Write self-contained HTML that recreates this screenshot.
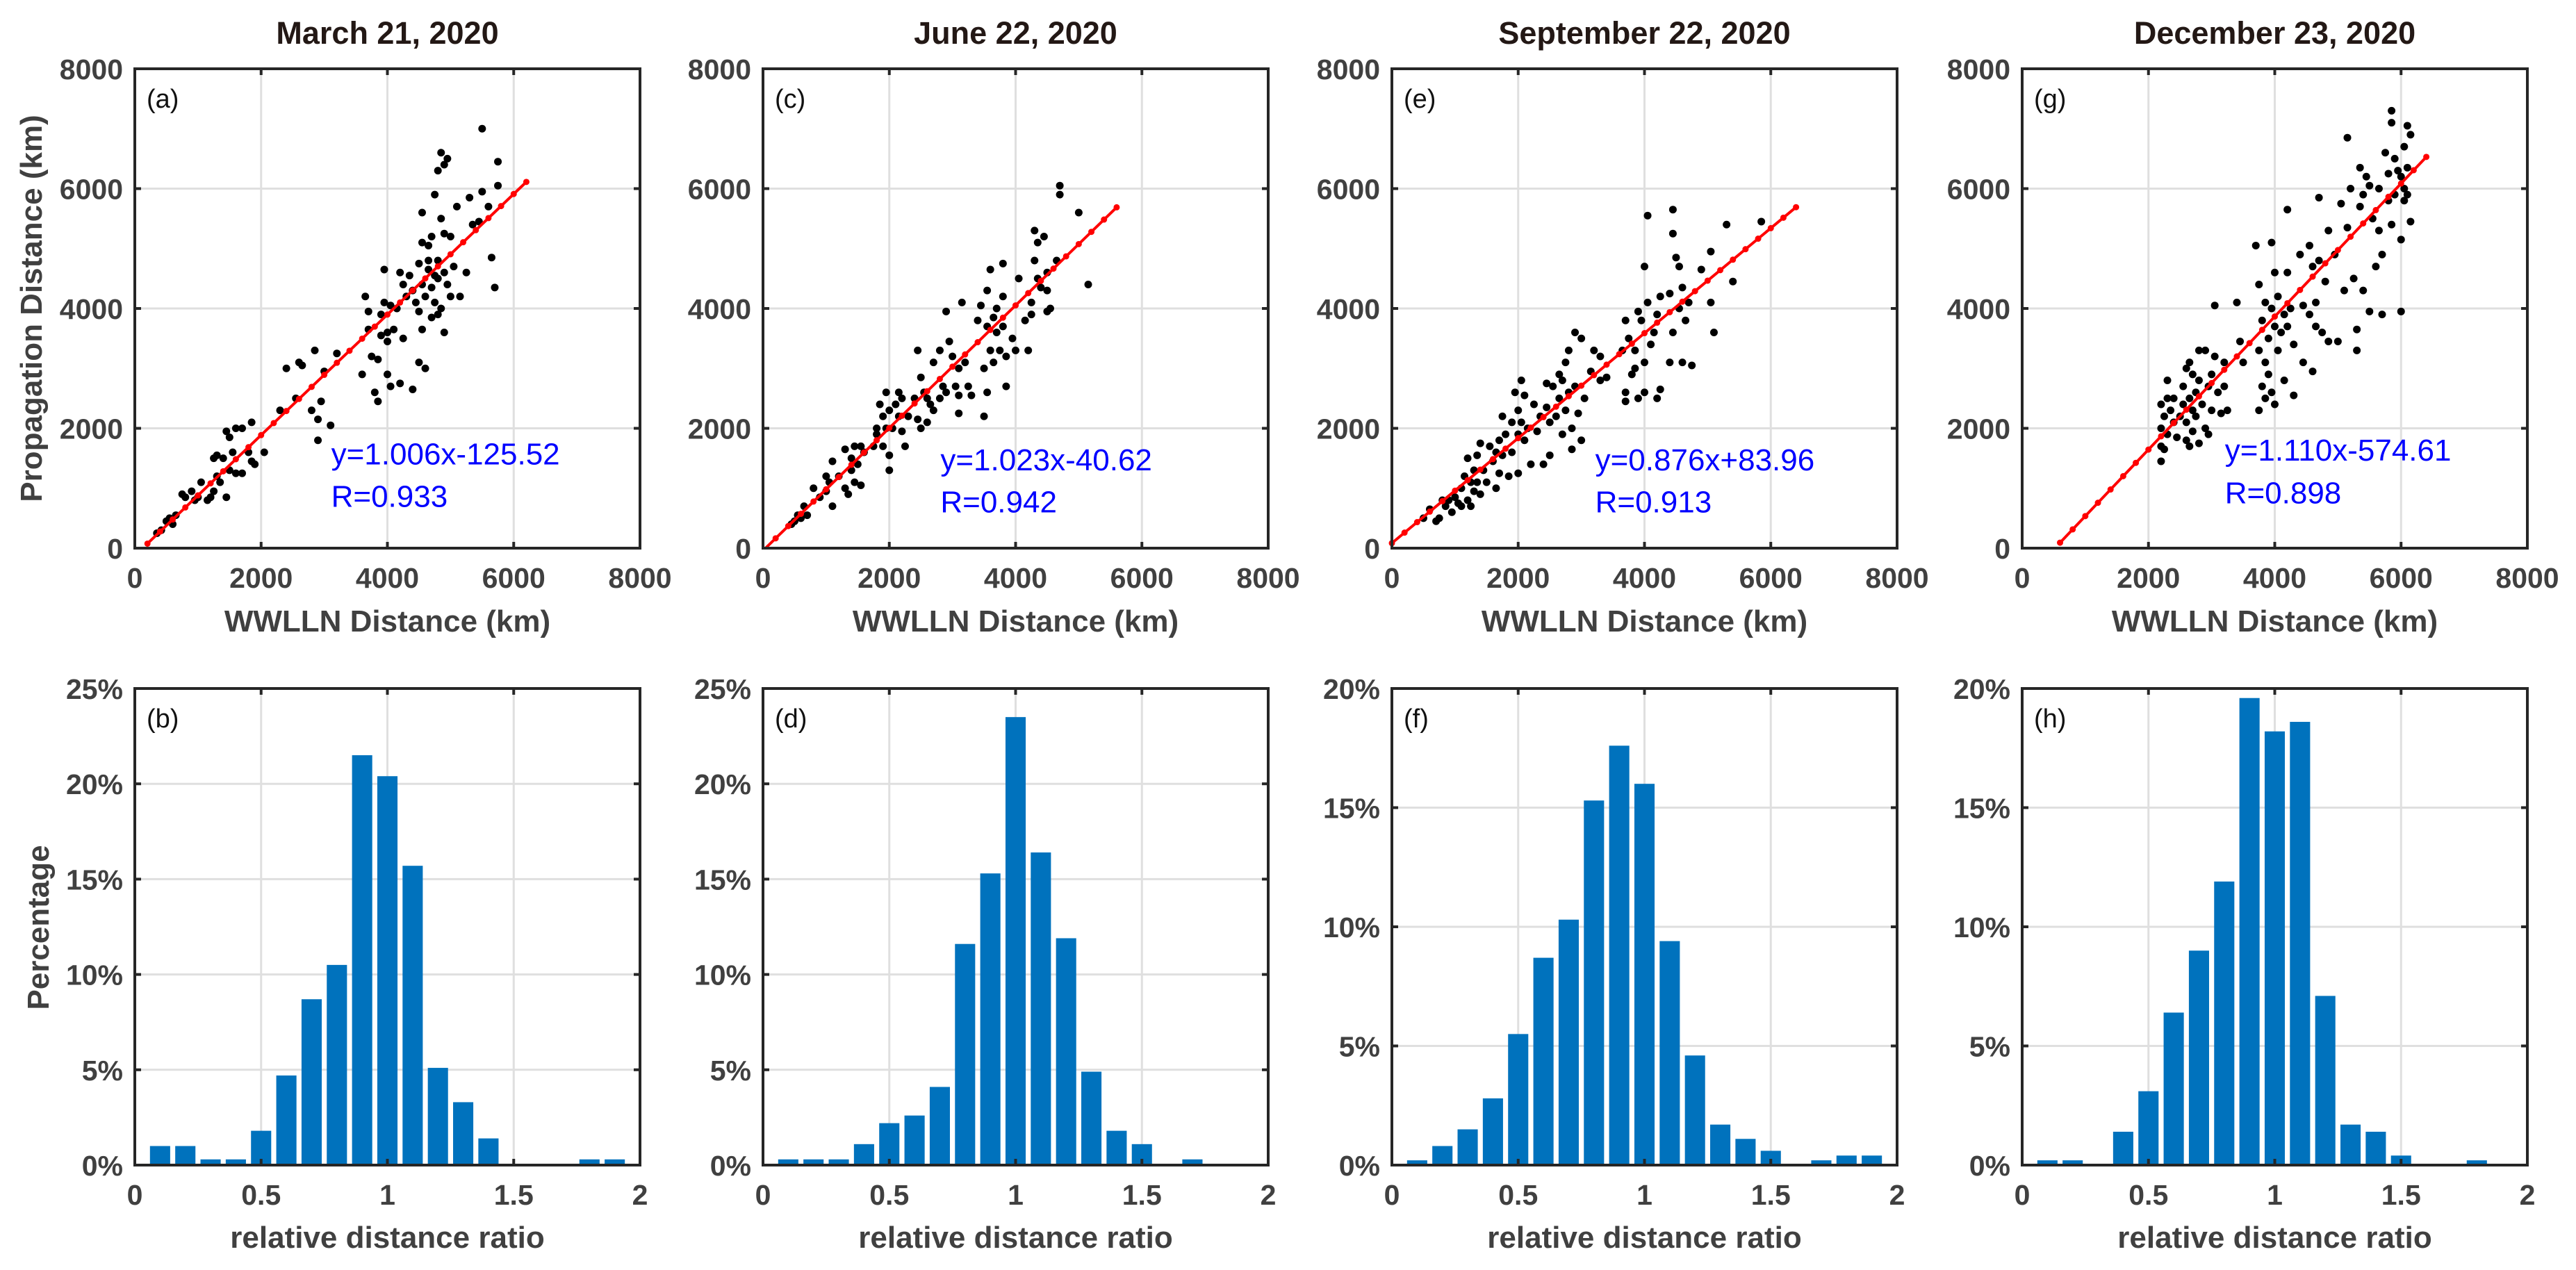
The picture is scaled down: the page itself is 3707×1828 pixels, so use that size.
<!DOCTYPE html>
<html><head><meta charset="utf-8"><style>
html,body{margin:0;padding:0;background:#fff;}
svg{display:block;font-family:"Liberation Sans",Arial,sans-serif;}
</style></head><body>
<svg id="fig" width="3707" height="1828" viewBox="0 0 3707 1828" xmlns="http://www.w3.org/2000/svg"></svg>
<script>
// ---------- data ----------
const titles = ["March 21, 2020","June 22, 2020","September 22, 2020","December 23, 2020"];
const scatterLabels = ["(a)","(c)","(e)","(g)"];
const histLabels = ["(b)","(d)","(f)","(h)"];
const fitSlope = [1.006, 1.023, 0.876, 1.110];
const fitIntercept = [-125.52, -40.62, 83.96, -574.61];
const fitXStart = [200, 0, 0, 600];
const fitXEnd = [6200, 5600, 6400, 6400];
const eqText = ["y=1.006x-125.52","y=1.023x-40.62","y=0.876x+83.96","y=1.110x-574.61"];
const rText = ["R=0.933","R=0.942","R=0.913","R=0.898"];
const eqX = [3110, 2810, 3220, 3210];
const eqY = [1400, 1300, 1300, 1460];
const rY = [690, 600, 600, 750];
const scatterTicks = [0,2000,4000,6000,8000];

const ptsA = [[350,250],[420,300],[500,450],[550,500],[600,400],[650,550],[750,900],[800,850],[900,950],[950,800],[1000,850],[1050,1100],[1150,800],[1200,850],[1250,950],[1250,1500],[1300,1200],[1300,1550],[1350,1100],[1400,1500],[1450,1950],[1450,850],[1500,1850],[1500,1300],[1550,1600],[1600,2000],[1600,1250],[1700,2000],[1700,1250],[1800,1600],[1850,2100],[1850,1450],[1900,1400],[2050,1600],[2300,2300],[2400,3000],[2550,2500],[2600,3100],[2650,3050],[2800,2300],[2850,3300],[2900,2150],[2900,1800],[2950,2450],[3000,2950],[3100,2050],[3200,3250],[3600,2900],[3650,4200],[3700,3650],[3700,3950],[3750,3200],[3800,2600],[3850,3150],[3850,2450],[3900,3550],[3900,3900],[3950,4650],[4000,3600],[4000,2900],[4000,3450],[4050,4050],[4050,2700],[4100,3650],[4150,4000],[4200,4600],[4200,2750],[4250,3500],[4250,4400],[4300,4200],[4350,4550],[4400,2650],[4400,4300],[4500,3100],[4500,4750],[4500,3950],[4550,5600],[4550,5100],[4550,3650],[4600,3000],[4600,4200],[4650,4650],[4650,5050],[4700,3850],[4700,4350],[4700,5200],[4750,5900],[4750,4100],[4800,6300],[4800,4800],[4800,4500],[4850,6600],[4850,5500],[4850,4000],[4900,6400],[4900,5250],[4900,4600],[4900,3600],[4950,6500],[4950,4400],[5000,5200],[5000,4200],[5050,4700],[5100,5700],[5150,4200],[5250,4600],[5300,5850],[5350,5400],[5450,5450],[5500,5950],[5500,7000],[5600,5700],[5650,4850],[5700,4350],[5750,6450],[5750,6050],[4750,4550],[4800,3900],[4650,4800],[4550,4400],[4450,4100],[3950,4100]];
const ptsC = [[450,400],[500,450],[550,550],[600,500],[650,700],[700,550],[800,1000],[900,850],[1000,1200],[1000,950],[1050,1100],[1100,1450],[1100,700],[1200,1200],[1300,1650],[1300,1000],[1350,900],[1400,1500],[1400,1300],[1450,1700],[1450,1100],[1500,1400],[1550,1050],[1550,1700],[1600,1600],[1750,1700],[1800,1900],[1800,2000],[1850,2400],[1900,2200],[1900,1700],[1950,2600],[1950,2000],[2000,1300],[2000,1550],[2000,2300],[2050,2000],[2100,2400],[2150,2600],[2150,2200],[2200,2500],[2200,1950],[2250,1700],[2300,2200],[2400,2500],[2450,2150],[2450,3300],[2500,2850],[2500,2000],[2550,2600],[2600,2500],[2600,2100],[2650,2400],[2700,3100],[2700,2300],[2800,2500],[2800,3300],[2850,2700],[2900,2600],[2900,3950],[2950,3450],[3000,3200],[3050,2700],[3100,2250],[3100,2550],[3100,3000],[3150,4100],[3200,3100],[3250,2700],[3300,2550],[3400,3800],[3450,4050],[3500,3000],[3500,2200],[3550,3700],[3550,4300],[3550,2600],[3600,4650],[3600,3300],[3650,3850],[3650,3100],[3700,3600],[3700,4000],[3750,3300],[3800,3700],[3800,4200],[3800,4750],[3850,2700],[3850,3200],[3950,3500],[4000,3300],[4050,4500],[4150,3800],[4200,3300],[4250,4100],[4250,3900],[4300,4800],[4300,5300],[4350,4500],[4350,5100],[4400,4350],[4450,5200],[4500,4300],[4500,3950],[4500,4600],[4550,4000],[4650,4800],[4700,6050],[4700,5900],[5000,5600],[5150,4400]];
const ptsE = [[500,500],[600,650],[700,450],[750,500],[800,800],[850,700],[900,800],[950,600],[1000,850],[1050,750],[1100,700],[1100,1000],[1150,1200],[1200,800],[1200,1500],[1250,1100],[1250,700],[1300,1300],[1300,950],[1350,1550],[1350,1100],[1400,900],[1400,1750],[1450,1300],[1500,1100],[1550,1700],[1600,1450],[1650,1600],[1650,1000],[1700,1800],[1700,1250],[1750,2200],[1750,1550],[1800,1900],[1850,1200],[1900,2100],[1900,1600],[1950,2600],[2000,2300],[2000,1900],[2000,1250],[2050,2800],[2050,2100],[2100,2550],[2100,1800],[2150,2000],[2200,1400],[2250,2400],[2300,1950],[2350,2200],[2400,1400],[2450,2750],[2450,2350],[2500,2100],[2500,1550],[2550,2700],[2600,2200],[2650,2900],[2650,2500],[2700,2800],[2700,1900],[2750,3100],[2750,2300],[2800,3300],[2800,2600],[2850,2000],[2850,1650],[2900,3600],[2900,2700],[2950,2250],[3000,3500],[3000,1800],[3050,2500],[3150,2950],[3200,3300],[3300,3200],[3300,2800],[3400,2850],[3650,3300],[3700,3800],[3700,2600],[3700,2450],[3750,3500],[3800,2900],[3850,3300],[3850,3000],[3900,3950],[3900,2500],[3950,3800],[4000,4700],[4000,3100],[4000,2600],[4050,5550],[4050,4100],[4100,3400],[4150,3600],[4200,3900],[4200,2500],[4250,4200],[4250,2650],[4400,4250],[4400,3100],[4450,5650],[4450,5250],[4450,3600],[4500,4850],[4550,4700],[4550,4000],[4600,4350],[4600,3100],[4650,3800],[4700,4100],[4750,3050],[4900,4650],[5050,4950],[5050,4100],[5100,3600],[5300,5400],[5400,4450],[5850,5450]];
const ptsG = [[2200,1450],[2200,1700],[2200,2000],[2200,2400],[2250,1650],[2250,2200],[2300,1900],[2300,2500],[2300,2800],[2350,2300],[2400,2100],[2400,2500],[2450,1850],[2500,2200],[2550,2700],[2550,2400],[2600,1800],[2600,3000],[2600,2100],[2650,2500],[2650,1700],[2650,3100],[2700,2300],[2700,2900],[2700,1950],[2750,2200],[2750,2600],[2800,3300],[2800,1750],[2800,2800],[2850,2400],[2900,2000],[2900,3300],[2950,1900],[2950,2700],[3000,2900],[3000,2300],[3050,4050],[3050,3200],[3100,2600],[3150,2250],[3200,3100],[3200,2700],[3250,2300],[3400,4100],[3450,3450],[3500,3100],[3700,5050],[3750,3300],[3750,2300],[3750,4400],[3800,2700],[3800,3800],[3850,3100],[3850,4100],[3850,2500],[3900,2900],[3900,3500],[3950,5100],[3950,4000],[3950,2600],[4000,4600],[4000,3700],[4000,2400],[4050,3300],[4050,4200],[4100,3600],[4150,2800],[4150,3900],[4200,5650],[4200,3700],[4200,4600],[4250,4000],[4300,3400],[4300,2550],[4400,4900],[4450,3100],[4450,4050],[4550,5050],[4550,3900],[4600,4700],[4600,2950],[4650,4100],[4650,3700],[4700,4800],[4700,5850],[4750,3600],[4800,4450],[4850,5300],[4850,3450],[4950,4900],[5000,3450],[5050,5750],[5100,4300],[5150,5350],[5150,6850],[5200,6000],[5250,4500],[5300,3650],[5300,3300],[5350,5700],[5350,6350],[5400,5900],[5400,4300],[5450,6200],[5500,6050],[5500,3950],[5550,5500],[5600,4700],[5650,6000],[5700,3900],[5700,4900],[5750,6600],[5800,6250],[5800,5800],[5850,7300],[5850,7100],[5850,5400],[5900,5900],[5900,6500],[5950,6300],[6000,5150],[6000,6200],[6050,6700],[6050,5800],[6100,7050],[6100,6350],[6100,5900],[6150,6900],[6150,5450],[6000,3950],[6050,6000],[5650,5300]];
const scatterPts = [ptsA, ptsC, ptsE, ptsG];

const binCenters = [0.1,0.2,0.3,0.4,0.5,0.6,0.7,0.8,0.9,1.0,1.1,1.2,1.3,1.4,1.5,1.6,1.7,1.8,1.9];
const histB = [1.0,1.0,0.3,0.3,1.8,4.7,8.7,10.5,21.5,20.4,15.7,5.1,3.3,1.4,0,0,0,0.3,0.3];
const histD = [0.3,0.3,0.3,1.1,2.2,2.6,4.1,11.6,15.3,23.5,16.4,11.9,4.9,1.8,1.1,0,0.3,0,0];
const histF = [0.2,0.8,1.5,2.8,5.5,8.7,10.3,15.3,17.6,16.0,9.4,4.6,1.7,1.1,0.6,0,0.2,0.4,0.4];
const histH = [0.2,0.2,0,1.4,3.1,6.4,9.0,11.9,19.6,18.2,18.6,7.1,1.7,1.4,0.4,0,0,0.2,0];
const histVals = [histB, histD, histF, histH];
const histMax = [25,25,20,20];
const histTicksX = [0,0.5,1,1.5,2];
const histTicksY25 = [0,5,10,15,20,25];
const histTicksY20 = [0,5,10,15,20];

// ---------- layout ----------
const NS = "http://www.w3.org/2000/svg";
const svg = document.getElementById("fig");
const LEFTS = [194, 1098, 2003, 2910];
const W = 727;
const TOP1 = 99, BOT1 = 789, TOP2 = 991, BOT2 = 1677;
const AX = "#262626", TXT = "#404040", GRID = "#dfdfdf";

function el(tag, attrs, parent, text) {
  const e = document.createElementNS(NS, tag);
  for (const k in attrs) e.setAttribute(k, attrs[k]);
  if (text !== undefined) e.textContent = text;
  (parent || svg).appendChild(e);
  return e;
}

function frame(g, L, T, B, xt, yt, sx, sy) {
  xt.forEach(v => { const x = sx(v); if (x > L + 2 && x < L + W - 2) { const l = el("line", {x1:x, x2:x, y1:T, y2:B, stroke:GRID, "stroke-width":3}, g);   } });
  yt.forEach(v => { const y = sy(v); if (y > T + 2 && y < B - 2) { const l = el("line", {x1:L, x2:L+W, y1:y, y2:y, stroke:GRID, "stroke-width":3}, g);   } });
}
function box(g, L, T, B, xt, yt, sx, sy, xfmt, yfmt, which) {
  const r = el("rect", {x:L, y:T, width:W, height:B-T, fill:"none", stroke:AX, "stroke-width":4}, g);
  
  
  xt.forEach(v => {
    const x = sx(v);
    el("line", {x1:x, x2:x, y1:B, y2:B-9, stroke:AX, "stroke-width":4}, g);
    el("line", {x1:x, x2:x, y1:T, y2:T+9, stroke:AX, "stroke-width":4}, g);
    const t = el("text", {x:x, y:B+57, "text-anchor":"middle", "font-size":41, "font-weight":"bold", fill:TXT}, g, xfmt(v));
    
    
  });
  yt.forEach(v => {
    const y = sy(v);
    el("line", {x1:L, x2:L+9, y1:y, y2:y, stroke:AX, "stroke-width":4}, g);
    el("line", {x1:L+W, x2:L+W-9, y1:y, y2:y, stroke:AX, "stroke-width":4}, g);
    const t = el("text", {x:L-17, y:y+15, "text-anchor":"end", "font-size":41, "font-weight":"bold", fill:TXT}, g, yfmt(v));
    
    
  });
}

for (let i = 0; i < 4; i++) {
  const L = LEFTS[i];
  const g = el("g", {});
  
  
  const sx = v => L + v / 8000 * W;
  const sy = v => BOT1 - v / 8000 * (BOT1 - TOP1);
  frame(g, L, TOP1, BOT1, scatterTicks, scatterTicks, sx, sy);
  scatterPts[i].forEach(p => {
    const c = el("circle", {cx:sx(p[0]), cy:sy(p[1]), r:5.5, fill:"#000"}, g);
    
    
  });
  const fx = [];
  for (let x = fitXStart[i]; x <= fitXEnd[i] + 1; x += 200) fx.push(x);
  let x0 = Math.max(fitXStart[i], -fitIntercept[i] / fitSlope[i]);
  const lineY = x => fitSlope[i] * x + fitIntercept[i];
  const fl = el("line", {x1:sx(x0), y1:sy(Math.max(0, lineY(x0))), x2:sx(fitXEnd[i]), y2:sy(lineY(fitXEnd[i])), stroke:"#ff0000", "stroke-width":4}, g);
  
  
  fx.forEach(x => { const yv = lineY(x); if (yv >= 0) {
    const m = el("circle", {cx:sx(x), cy:sy(yv), r:4.5, fill:"#ff0000"}, g);
    
    
  }});
  box(g, L, TOP1, BOT1, scatterTicks, scatterTicks, sx, sy, v => String(v), v => String(v), 'scatter');
  const pl = el("text", {x:L+17, y:TOP1+56, "font-size":38, fill:"#111"}, g, scatterLabels[i]);
  
  
  const eq = el("text", {x:sx(eqX[i]), y:sy(eqY[i]), "font-size":44, fill:"#0000ff"}, g, eqText[i]);
  
  
  const rr = el("text", {x:sx(eqX[i]), y:sy(rY[i]), "font-size":44, fill:"#0000ff"}, g, rText[i]);
  
  
  const tt = el("text", {x:L+W/2, y:63, "text-anchor":"middle", "font-size":45, "font-weight":"bold", fill:"#231815"}, g, titles[i]);
  
  
  const xl = el("text", {x:L+W/2, y:909, "text-anchor":"middle", "font-size":44, "font-weight":"bold", fill:TXT}, g, "WWLLN Distance (km)");
  
  

  const h = el("g", {});
  
  
  const hx = v => L + v / 2 * W;
  const hy = v => BOT2 - v / histMax[i] * (BOT2 - TOP2);
  const yt = histMax[i] === 25 ? histTicksY25 : histTicksY20;
  frame(h, L, TOP2, BOT2, histTicksX, yt, hx, hy);
  histVals[i].forEach((v, k) => {
    if (v <= 0) return;
    const bw = 0.08 / 2 * W;
    const b = el("rect", {x:hx(binCenters[k]) - bw/2, y:hy(v), width:bw, height:BOT2 - hy(v), fill:"#0072BD"}, h);
    
    
  });
  box(h, L, TOP2, BOT2, histTicksX, yt, hx, hy, v => String(v), v => v + "%", 'histogram');
  const hl = el("text", {x:L+17, y:TOP2+56, "font-size":38, fill:"#111"}, h, histLabels[i]);
  
  
  const hxl = el("text", {x:L+W/2, y:1796, "text-anchor":"middle", "font-size":44, "font-weight":"bold", fill:TXT}, h, "relative distance ratio");
  
  
}
const yl1 = el("text", {x:0, y:0, transform:"translate(60,444) rotate(-90)", "text-anchor":"middle", "font-size":44, "font-weight":"bold", fill:TXT}, svg, "Propagation Distance (km)");


const yl2 = el("text", {x:0, y:0, transform:"translate(70,1335) rotate(-90)", "text-anchor":"middle", "font-size":44, "font-weight":"bold", fill:TXT}, svg, "Percentage");


</script>
</body></html>
